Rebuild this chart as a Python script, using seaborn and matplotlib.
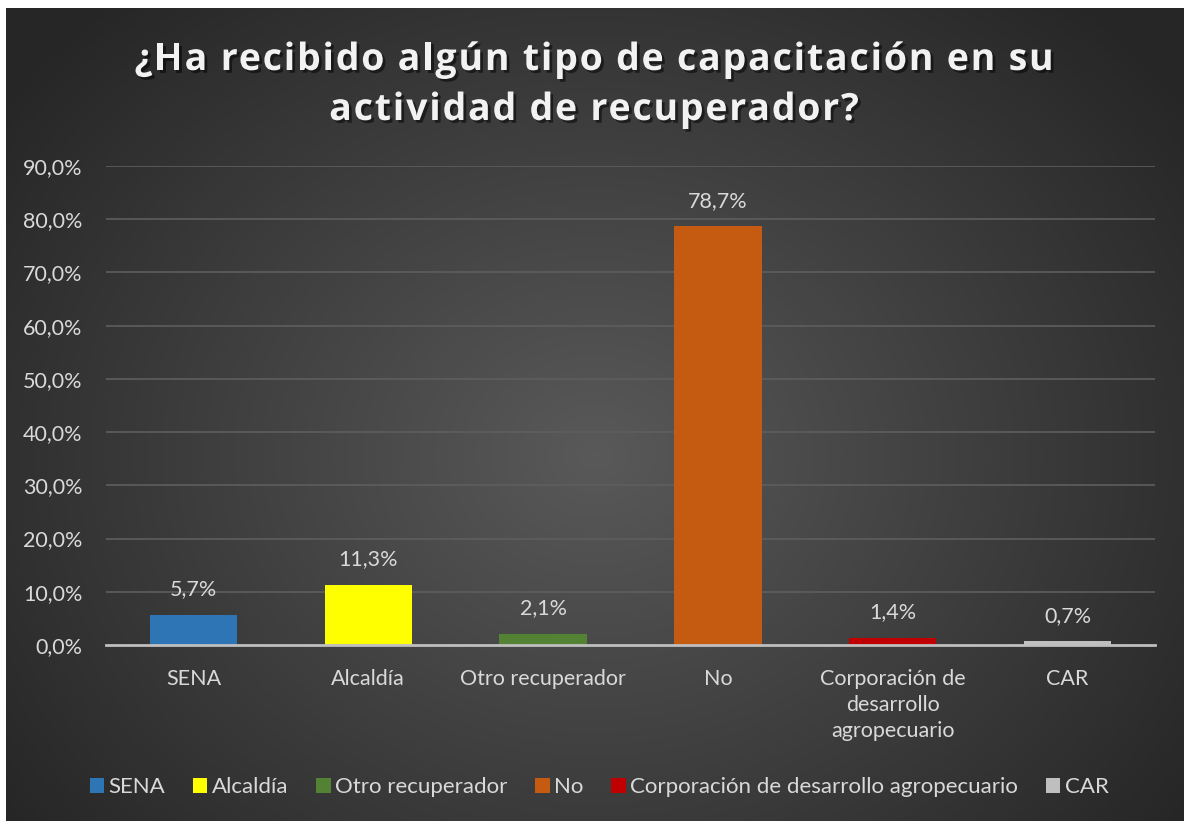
import numpy as np
import pandas as pd
import matplotlib
matplotlib.use("Agg")
import matplotlib.pyplot as plt
import matplotlib.patheffects as pe
from matplotlib.patches import Patch
import seaborn as sb

# Data
categorias = ["SENA", "Alcaldía", "Otro recuperador", "No",
              "Corporación de desarrollo agropecuario", "CAR"]
etiquetas_x = ["SENA", "Alcaldía", "Otro recuperador", "No",
               "Corporación de\ndesarrollo\nagropecuario", "CAR"]
porcentajes = [5.7, 11.3, 2.1, 78.7, 1.4, 0.7]
colores = ["#2E75B6", "#FFFF00", "#548235", "#C55A11", "#C00000", "#BFBFBF"]
ticks_y = [0, 10, 20, 30, 40, 50, 60, 70, 80, 90]
titulo = ["¿Ha recibido algún tipo de capacitación en su", "actividad de recuperador?"]

df = pd.DataFrame({"cat": categorias, "pct": porcentajes})

sb.set_theme(style="white")
plt.rcParams["font.family"] = ["Lato", "DejaVu Sans"]
txt_col = "#D9D9D9"
fs = 15.5

fig = plt.figure(figsize=(11.84, 8.21), dpi=100, facecolor="white")

# radial gradient background
ax_bg = fig.add_axes([6 / 1184, 0, 1 - 6 / 1184, 813 / 821], zorder=-5)
yy, xx = np.mgrid[0:1:400j, 0:1:600j]
r = np.sqrt(((xx - 0.5) / 0.62) ** 2 + ((yy - 0.55) / 0.75) ** 2)
r = np.clip(r, 0, 1)
grad = 0.35 - 0.2 * r
ax_bg.imshow(np.dstack([grad, grad, grad]), aspect="auto", extent=[0, 1, 0, 1],
             interpolation="bilinear")
ax_bg.axis("off")

ax = fig.add_axes([106 / 1184, 176 / 821, 1049 / 1184, 479 / 821])
ax.set_facecolor("none")

sb.barplot(data=df, x="cat", y="pct", hue="cat", palette=colores, width=0.5,
           legend=False, saturation=1, edgecolor="none", linewidth=0, ax=ax, zorder=3)

ax.set_xlim(-0.5, 5.5)
ax.set_ylim(0, 90)
ax.set_yticks(ticks_y)
ax.set_yticklabels([f"{t:.1f}".replace(".", ",") + "%" for t in ticks_y],
                   color=txt_col, fontsize=fs)
ax.set_xticks(range(len(categorias)))
ax.set_xticklabels(etiquetas_x, color=txt_col, fontsize=fs, linespacing=1.4)
ax.tick_params(axis="x", length=0, pad=17)
ax.tick_params(axis="y", length=0, pad=17)
ax.set_xlabel("")
ax.set_ylabel("")
for t in ticks_y[1:]:
    ax.axhline(t, color="#5E5E5E", lw=1.2, zorder=1)
for s in ["top", "right", "left"]:
    ax.spines[s].set_visible(False)
ax.spines["bottom"].set_color("#BFBFBF")
ax.spines["bottom"].set_linewidth(2)
ax.spines["bottom"].set_zorder(4)

for i, v in enumerate(porcentajes):
    ax.annotate(f"{v:.1f}".replace(".", ",") + "%", (i, v), xytext=(0, 11),
                textcoords="offset points", ha="center", va="bottom",
                color=txt_col, fontsize=fs)

# title with letter spacing, drawn character by character
sombra = [pe.withSimplePatchShadow(offset=(2, -2), shadow_rgbFace="black", alpha=0.5)]
titulo_kw = dict(va="baseline", color="#F2F2F2", fontsize=27,
                 fontweight="bold", family=["Open Sans", "DejaVu Sans"])
renderer = fig.canvas.get_renderer()
tracking = 1.8
W, H = fig.bbox.width, fig.bbox.height
for linea, base_y in zip(titulo, [70, 120]):
    medidor = fig.text(0, 0, "", **titulo_kw)
    medidor.set_text(linea)
    total = medidor.get_window_extent(renderer).width + tracking * (len(linea) - 1)
    x0 = 594 - total / 2
    for i, ch in enumerate(linea):
        if ch == " ":
            continue
        medidor.set_text(linea[:i + 1])
        x_der = x0 + medidor.get_window_extent(renderer).width + tracking * i
        fig.text(x_der / W, 1 - base_y / H, ch, ha="right", path_effects=sombra,
                 **titulo_kw)
    medidor.remove()

handles = [Patch(facecolor=c, edgecolor="none") for c in colores]
leg = fig.legend(handles, categorias, loc="center", bbox_to_anchor=(0.506, 1 - 787 / 821),
                 ncol=6, frameon=False, fontsize=16, handlelength=0.65, handleheight=0.65,
                 handletextpad=0.2, columnspacing=1.25)
for t in leg.get_texts():
    t.set_color(txt_col)

fig.savefig("out.png", dpi=100, facecolor="white")
